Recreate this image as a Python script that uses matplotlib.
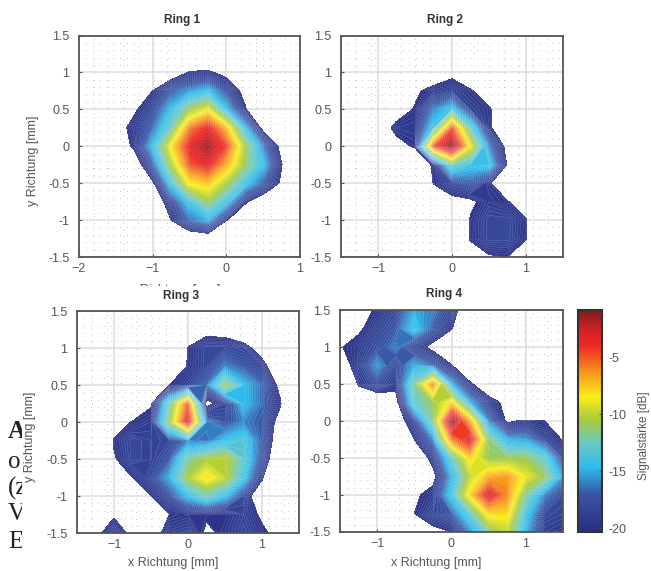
import numpy as np
import matplotlib
matplotlib.use('Agg')
import matplotlib.pyplot as plt
from matplotlib.cm import ScalarMappable
from matplotlib.colors import LinearSegmentedColormap, Normalize
from matplotlib.transforms import Bbox

plt.rcParams['font.family'] = ['Liberation Sans', 'DejaVu Sans']

W, H = 651, 571
N = -30  # below the -20 dB floor, stays white

#y rows run from top to bottom
y_vals = [1.5, 1.25, 1, 0.75, 0.5, 0.25, 0, -0.25, -0.5, -0.75, -1, -1.25, -1.5]
x_ring1 = [-2, -1.75, -1.5, -1.25, -1, -0.75, -0.5, -0.25, 0, 0.25, 0.5, 0.75, 1]
x_other = [-1.5, -1.25, -1, -0.75, -0.5, -0.25, 0, 0.25, 0.5, 0.75, 1, 1.25, 1.5]

ring1 = [
    [N, N, N, N, N, N, N, N, N, N, N, N, N],
    [N, N, N, N, N, N, -24, -24, N, N, N, N, N],
    [N, N, N, N, N, -22, -19.8, -19.5, -21, N, N, N, N],
    [N, N, N, -24, -20, -17, -15.5, -14.5, -17.5, -21, N, N, N],
    [N, N, -24, -20.5, -18, -14.5, -11, -9, -14.5, -19.6, -24, N, N],
    [N, N, -21.5, -19, -16.5, -12.5, -6, -3.5, -7.5, -14.5, -21, N, N],
    [N, N, -22, -19.5, -14.5, -8.5, -3.5, -1.5, -4.5, -10.5, -16, -21, N],
    [N, N, N, -22, -17, -10.5, -5, -3.5, -7, -11, -14.5, -19.9, -24],
    [N, N, N, -24, -20.5, -14, -8.5, -7.5, -10.5, -14, -17, -20.5, N],
    [N, N, N, N, -23, -18, -14, -11, -14, -19.5, -22, N, N],
    [N, N, N, N, N, -20, -16.5, -15, -19.8, -23, N, N, N],
    [N, N, N, N, N, N, -22.5, -22, N, N, N, N, N],
    [N, N, N, N, N, N, N, N, N, N, N, N, N],
]

ring2 = [
    [N, N, N, N, N, N, N, N, N, N, N, N, N],
    [N, N, N, N, N, N, N, N, N, N, N, N, N],
    [N, N, N, N, N, -22.5, -20.8, -24, N, N, N, N, N],
    [N, N, N, N, -20.5, -19, -18.5, -19.6, -22, N, N, N, N],
    [N, N, N, -21.5, -19.8, -16, -14, -18.5, -19.6, -23, N, N, N],
    [N, N, -22, -19.2, -19, -14, -5, -13, -19.5, -23, N, N, N],
    [N, N, N, -21, -19.7, -5, -0.8, -9, -16, -21, N, N, N],
    [N, N, N, N, -23, -19.5, -12.5, -14, -14, -20.3, N, N, N],
    [N, N, N, N, N, -19.8, -18, -17, -19.6, -24, N, N, N],
    [N, N, N, N, N, -24, -21, -20.5, -19, -19.8, -23, N, N],
    [N, N, N, N, N, N, -24, -19.8, -18, -18, -19.7, N, N],
    [N, N, N, N, N, N, -24, -19.7, -18, -18, -19.9, N, N],
    [N, N, N, N, N, N, N, -22, -20.3, -20, -22, N, N],
]

ring3 = [
    [N, N, N, N, N, N, N, N, N, N, N, N, N],
    [N, N, N, N, N, N, -24, -21.2, -21.5, -24, N, N, N],
    [N, N, N, N, N, N, -19.8, -18, -18, -18.5, -22, N, N],
    [N, N, N, N, N, -24, -19.7, -18, -16, -17, -18.5, -24, N],
    [N, N, N, N, -24, -20, -18.5, -16.5, -11, -14.5, -16.5, -21, N],
    [N, N, N, -24, -20.3, -12.5, -5, -21, -18.5, -14.5, -16.5, -19.7, N],
    [N, N, -22, -19.8, -19, -11, -3, -16, -17.5, -16, -17, -21.5, N],
    [N, N, -19.7, -18, -18.5, -18, -16, -16.5, -14.5, -13.5, -17, -22.5, N],
    [N, N, -20.3, -18, -18.5, -17, -12, -10.5, -10, -13, -17.5, -24, N],
    [N, N, -23, -20, -18, -15, -10.5, -8, -10, -14, -19.5, N, N],
    [N, N, N, -23, -20, -17.5, -14.5, -12.5, -14.5, -18, -23, N, N],
    [N, N, -20.5, -24, -23, -20, -19.5, -19.7, -19.9, -18.5, -20.5, N, N],
    [N, -21, -18, -21, -22, -18.5, -18, -20.5, -19.5, -18, -19.5, -21, N],
]

ring4 = [
    [N, -21, -19.7, -18, -15, -16, -18, -24, N, N, N, N, N],
    [N, -20.5, -18.5, -17, -14, -17, -19.8, -24, N, N, N, N, N],
    [-20.2, -19, -17.5, -16, -18.5, -21, -24, N, N, N, N, N, N],
    [-22, -18.5, -15.5, -18, -15, -16.5, -19.8, -24, N, N, N, N, N],
    [N, -19.5, -17.5, -19.3, -12, -6, -15, -19.5, -23, N, N, N, N],
    [N, -24, -23, -21, -13, -11, -8, -15, -18.5, -21, N, N, N],
    [N, N, N, -22, -18, -12, -1, -7, -16, -20.5, -19.5, -20, N],
    [N, N, N, N, -20, -16, -6, -3, -11.5, -15, -15.5, -18, -20.2],
    [N, N, N, N, -23, -19, -13, -8, -11, -11, -11, -13, -18],
    [N, N, N, N, N, -21, -15, -10, -7, -6.5, -9, -11, -15.5],
    [N, N, N, N, -20.5, -19, -14, -8, -3, -6, -12, -16, -18],
    [N, N, N, N, -20, -18, -17, -13, -8, -8, -14, -18, -18.5],
    [N, N, N, N, N, -21, -20, -16, -12, -10, -15, -19, -19.5],
]

ring_titles = ['Ring 1', 'Ring 2', 'Ring 3', 'Ring 4']
yticks = [-1.5, -1, -0.5, 0, 0.5, 1, 1.5]
ytick_labels = ['-1.5', '-1', '-0.5', '0', '0.5', '1', '1.5']
cbar_ticks = [-20, -15, -10, -5]
cut_letters = ['A', 'o:', '(z', 'V', 'E']

#colormap
vmin, vmax = -20.35, -0.8
stops = [(-20.35, '#2a2e83'), (-17, '#3a55a5'), (-14.7, '#2dbcee'), (-12.5, '#6cc9c4'),
         (-10.5, '#a6ca3a'), (-8.5, '#faee18'), (-6.5, '#f99d1c'), (-4, '#ee2a24'),
         (-2.5, '#cf2027'), (-0.8, '#7d1c1c')]
cmap = LinearSegmentedColormap.from_list(
    'signal', [((v - vmin) / (vmax - vmin), c) for v, c in stops], N=256)
norm = Normalize(vmin, vmax)


def px_axes(fig, left, right, top, bottom):
    return fig.add_axes([left / W, 1 - bottom / H, (right - left) / W, (bottom - top) / H])


def ring_plot(fig, box, x, z, title, xlim):
    ax = px_axes(fig, *box)
    levels = np.arange(-20, -0.4, 0.25)
    ax.contourf(x, y_vals, np.array(z, float), levels=levels, cmap=cmap, norm=norm)
    ax.contour(x, y_vals, np.array(z, float), levels=levels, colors='white',
               linewidths=0.3, alpha=0.4)
    ax.set_xlim(*xlim)
    ax.set_ylim(-1.5, 1.5)
    ax.set_xticks(range(int(xlim[0]) if xlim[0] == -2 else -1, 2))
    ax.set_yticks(yticks, ytick_labels)
    ax.set_xticks(np.arange(xlim[0], xlim[1] + 0.01, 0.2), minor=True)
    ax.set_yticks(np.arange(-1.5, 1.51, 0.1), minor=True)
    ax.grid(True, which='major', color='#dcdcdc', lw=1.1)
    ax.grid(True, which='minor', color='#777777', lw=0.5, ls=(0, (0.8, 9)))
    ax.set_axisbelow(True)
    ax.tick_params(which='major', direction='in', length=2.5, width=0.8, colors='#555555',
                   labelsize=9)
    ax.tick_params(axis='x', which='major', pad=4)
    ax.tick_params(axis='y', which='major', pad=7)
    ax.tick_params(which='minor', length=0)
    for s in ax.spines.values():
        s.set_color('#555555')
        s.set_linewidth(1.3)
    ax.set_title(title, x=0.467, fontsize=8.5, fontweight='bold', color='#333333', pad=9)
    return ax


fig = plt.figure(figsize=(W / 100, H / 100), dpi=100)

ax1 = ring_plot(fig, (79, 300, 35.5, 257), x_ring1, ring1, ring_titles[0], (-2, 1))
ax2 = ring_plot(fig, (341, 563, 35.5, 257), x_other, ring2, ring_titles[1], (-1.5, 1.5))
ax3 = ring_plot(fig, (77, 299, 311, 533), x_other, ring3, ring_titles[2], (-1.5, 1.5))
ax4 = ring_plot(fig, (340, 563, 310, 532), x_other, ring4, ring_titles[3], (-1.5, 1.5))

lab = dict(fontsize=9, color='#555555')
fig.text(33 / W, 1 - 161 / H, 'y Richtung [mm]', rotation=90, ha='center', va='center', **lab)
fig.text(30 / W, 1 - 437 / H, 'y Richtung [mm]', rotation=90, ha='center', va='center', zorder=5, **lab)
fig.text(173 / W, 1 - 563 / H, 'x Richtung [mm]', ha='center', va='center', **lab)
fig.text(436 / W, 1 - 563 / H, 'x Richtung [mm]', ha='center', va='center', **lab)

#xlabel of ring 1 is cut off by the next row in the original
t = fig.text(175 / W, 1 - 290 / H, 'x Richtung [mm]', ha='center', va='center', **lab)
t.set_clip_box(Bbox([[0, H - 285.5], [W, H]]))
t.set_clip_on(True)

#leftover body text cut at the left edge
for letter, yp in zip(cut_letters, [432, 462, 488, 514, 542]):
    t = fig.text(8 / W, 1 - yp / H, letter, ha='left', va='center', fontsize=18,
                 family='Liberation Serif', color='#222222',
                 fontweight='bold' if letter == 'A' else 'normal', zorder=1)
    t.set_clip_box(Bbox([[0, 0], [22, H]]))
    t.set_clip_on(True)

#colorbar
cax = px_axes(fig, 578, 602, 309.5, 532)
cb = fig.colorbar(ScalarMappable(norm=norm, cmap=cmap), cax=cax, ticks=cbar_ticks)
cb.ax.set_yticklabels([str(v) for v in cbar_ticks])
cb.ax.tick_params(direction='in', length=2.5, width=0.8, colors='#555555', labelsize=9, pad=5)
cb.outline.set_edgecolor('#333333')
cb.outline.set_linewidth(1.5)
fig.text(644 / W, 1 - 436 / H, 'Signalstärke [dB]', rotation=90, ha='center', va='center',
         fontsize=8.5, color='#555555')

plt.savefig('out.png', dpi=100)
